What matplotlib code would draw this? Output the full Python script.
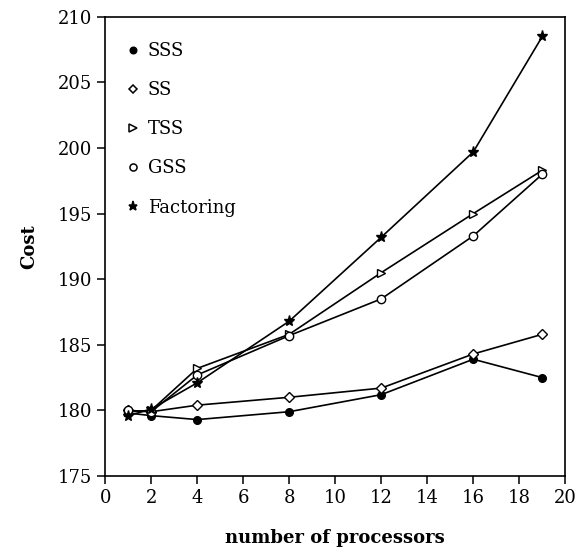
import matplotlib.pyplot as plt
from matplotlib.lines import Line2D

procs = [1, 2, 4, 8, 12, 16, 19]

sss = [179.8, 179.6, 179.3, 179.9, 181.2, 183.9, 182.5]
ss = [180.0, 179.9, 180.4, 181.0, 181.7, 184.3, 185.8]
tss = [179.9, 180.0, 183.2, 185.8, 190.5, 195.0, 198.3]
gss = [180.0, 179.9, 182.7, 185.7, 188.5, 193.3, 198.0]
factoring = [179.6, 180.1, 182.1, 186.8, 193.2, 199.7, 208.5]

names = ['SSS', 'SS', 'TSS', 'GSS', 'Factoring']
series = [sss, ss, tss, gss, factoring]
# marker, facecolor, size
styles = [('o', 'black', 5.5), ('D', 'white', 5), ('>', 'white', 6),
          ('o', 'white', 6), ('*', 'black', 8)]

plt.rcParams['font.family'] = 'DejaVu Serif'

fig = plt.figure(figsize=(5.78, 5.6), dpi=100)
ax = fig.add_axes([0.182, 0.15, 0.796, 0.82])

handles = []
for name, ys, (m, fc, ms) in zip(names, series, styles):
    ax.plot(procs, ys, color='black', lw=1.2, marker=m, mfc=fc, mec='black',
            ms=ms, mew=1.0)
    handles.append(Line2D([], [], ls='none', marker=m, mfc=fc, mec='black',
                          ms=ms * 0.85, mew=1.1, color='black'))

ax.set_xlim(0, 20)
ax.set_ylim(175, 210)
ax.set_xticks(range(0, 21, 2))
ax.set_yticks(range(175, 211, 5))
ax.tick_params(direction='out', length=6, width=1.1, labelsize=13)
for sp in ax.spines.values():
    sp.set_linewidth(1.2)

ax.set_xlabel('number of processors', fontsize=13, fontweight='bold', labelpad=16)
ax.set_ylabel('Cost', fontsize=13, fontweight='bold', labelpad=14)

ax.legend(handles, names, loc='upper left', bbox_to_anchor=(-0.011, 1.0),
          frameon=False, fontsize=13,
          handlelength=0.8, handletextpad=0.45, labelspacing=1.17,
          borderaxespad=1.0, borderpad=0.4)

plt.savefig('out.png')
